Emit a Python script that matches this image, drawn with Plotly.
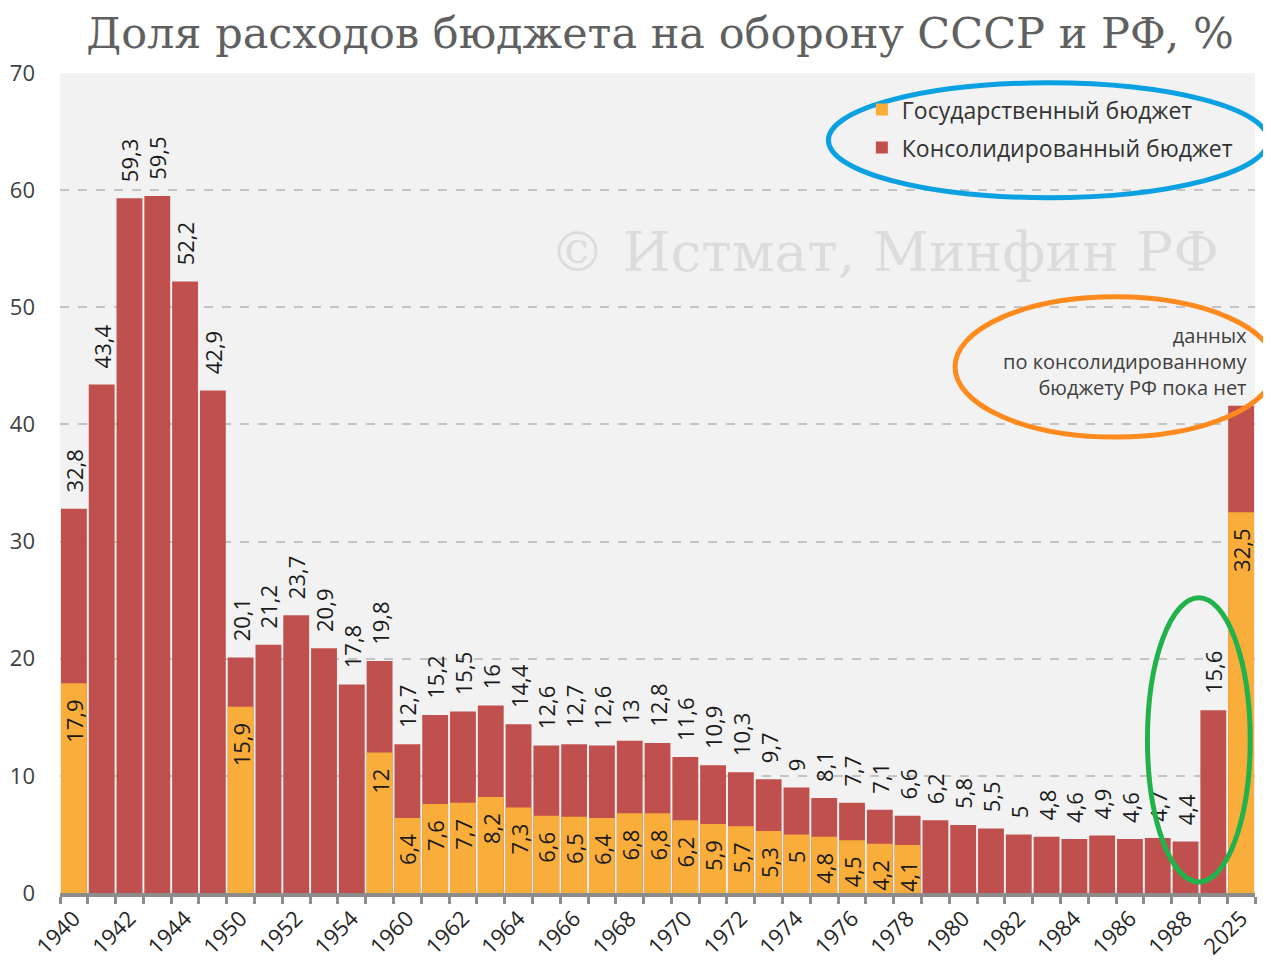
import plotly.graph_objects as go

years = ["1940", "1941", "1942", "1943", "1944", "1945",
         "1950", "1951", "1952", "1953", "1954", "1955",
         "1960", "1961", "1962", "1963", "1964", "1965", "1966", "1967", "1968", "1969",
         "1970", "1971", "1972", "1973", "1974", "1975", "1976", "1977", "1978", "1979",
         "1980", "1981", "1982", "1983", "1984", "1985", "1986", "1987", "1988", "1989",
         "2025"]

consolidated = [32.8, 43.4, 59.3, 59.5, 52.2, 42.9,
                20.1, 21.2, 23.7, 20.9, 17.8, 19.8,
                12.7, 15.2, 15.5, 16, 14.4, 12.6, 12.7, 12.6, 13, 12.8,
                11.6, 10.9, 10.3, 9.7, 9, 8.1, 7.7, 7.1, 6.6, 6.2,
                5.8, 5.5, 5, 4.8, 4.6, 4.9, 4.6, 4.7, 4.4, 15.6,
                41.6]
consolidated_labeled = [True] * 42 + [False]

state = [17.9, None, None, None, None, None,
         15.9, None, None, None, None, 12,
         6.4, 7.6, 7.7, 8.2, 7.3, 6.6, 6.5, 6.4, 6.8, 6.8,
         6.2, 5.9, 5.7, 5.3, 5, 4.8, 4.5, 4.2, 4.1, None,
         None, None, None, None, None, None, None, None, None, None,
         32.5]

tick_labels = ["1940", "", "1942", "", "1944", "",
               "1950", "", "1952", "", "1954", "",
               "1960", "", "1962", "", "1964", "", "1966", "", "1968", "",
               "1970", "", "1972", "", "1974", "", "1976", "", "1978", "",
               "1980", "", "1982", "", "1984", "", "1986", "", "1988", "",
               "2025"]

PAD = "\u2002\u200a"


def fmt(v):
    if v is None:
        return ""
    return f"{v:g}".replace(".", ",")


RED = "#C0504D"
YELLOW = "#F9AD3A"
FONT = "Open Sans"

fig = go.Figure()
fig.add_trace(go.Bar(
    x=years, y=consolidated, name="Консолидированный бюджет",
    marker=dict(color=RED, line=dict(width=0)),
    text=[PAD + fmt(v) if lab else "" for v, lab in zip(consolidated, consolidated_labeled)],
    textposition="outside", textangle=-90, constraintext="none", cliponaxis=False,
    textfont=dict(family=FONT, size=22, color="#1a1a1a"),
    legendgroup="b", legendrank=2,
))
fig.add_trace(go.Bar(
    x=years, y=state, name="Государственный бюджет",
    marker=dict(color=YELLOW, line=dict(width=0)),
    text=[fmt(v) + PAD if v is not None else "" for v in state],
    textposition="inside", insidetextanchor="end", textangle=-90, constraintext="none",
    textfont=dict(family=FONT, size=22, color="#1a1a1a"),
    legendgroup="a", legendrank=1,
))

fig.update_layout(
    width=1271, height=964,
    margin=dict(l=52, r=24, t=65, b=79),
    paper_bgcolor="white", plot_bgcolor="#F2F2F2",
    barmode="overlay", bargap=0.07,
    title=dict(text="Доля расходов бюджета на оборону СССР и РФ, %",
               font=dict(family="DejaVu Serif", size=43, color="#606060"),
               x=0.513, xanchor="center", y=0.974, yanchor="middle"),
    legend=dict(x=0.671, y=0.9815, xanchor="left", yanchor="top",
                bgcolor="rgba(0,0,0,0)", font=dict(family=FONT, size=23, color="#333333"),
                traceorder="grouped", tracegroupgap=5, itemwidth=30),
    showlegend=True,
    xaxis=dict(type="category", tickvals=years, ticktext=tick_labels, automargin=False,
               tickson="boundaries", ticks="outside", ticklen=7, tickwidth=3, tickcolor="#8C8C8C",
               showline=True, linecolor="#8C8C8C", linewidth=4,
               tickangle=-45, tickfont=dict(family=FONT, size=22, color="#262626"),
               showgrid=False, range=[-0.5, 42.5]),
    yaxis=dict(range=[0, 70], dtick=10, showgrid=True, gridcolor="#C4C4C4", griddash="dash",
               gridwidth=1.5, zeroline=False, showline=False, automargin=False,
               tickfont=dict(family=FONT, size=22, color="#404040"), ticklabelstandoff=24),
    annotations=[
        dict(text="© Истмат, Минфин РФ", xref="paper", yref="paper", x=0.69, y=0.782,
             xanchor="center", yanchor="middle", showarrow=False,
             font=dict(family="DejaVu Serif", size=55, color="#DCDCDC")),
        dict(text="данных<br>по консолидированному<br>бюджету РФ пока нет",
             xref="paper", yref="paper", x=0.996, y=0.6476, xanchor="right", yanchor="middle",
             align="right", showarrow=False,
             font=dict(family=FONT, size=20, color="#404040")),
    ],
    shapes=[
        dict(type="circle", xref="paper", yref="paper", x0=0.643, x1=1.011, y0=0.848, y1=0.988,
             line=dict(color="#0AA0E2", width=5)),
        dict(type="circle", xref="paper", yref="paper", x0=0.749, x1=1.017, y0=0.556, y1=0.727,
             line=dict(color="#FF8A1E", width=5)),
        dict(type="circle", xref="paper", yref="paper", x0=0.910, x1=0.996, y0=0.0134, y1=0.360,
             line=dict(color="#22B24C", width=5)),
    ],
)

fig.write_html("out.html")
